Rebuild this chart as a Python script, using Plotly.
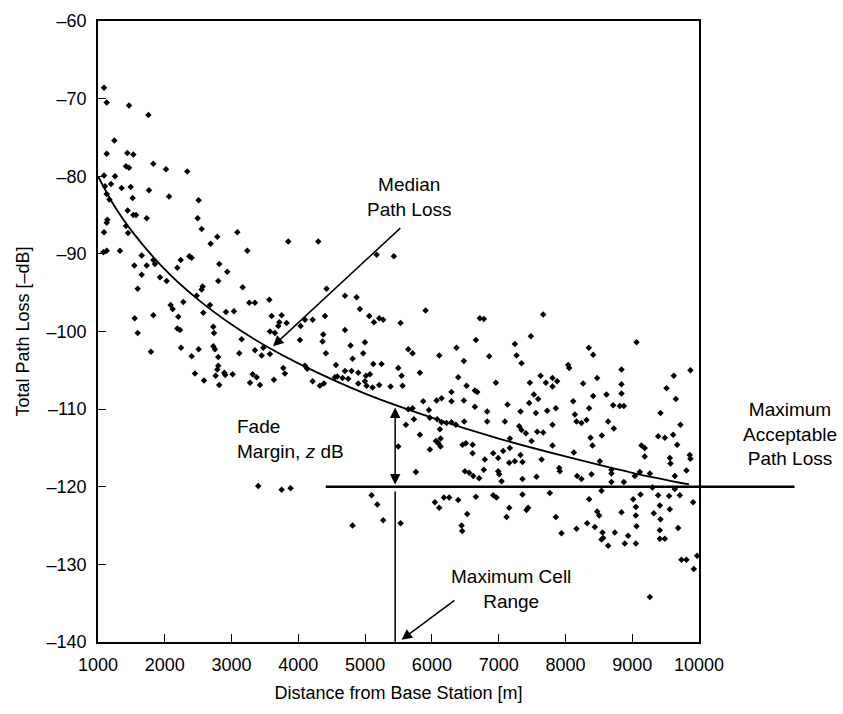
import plotly.graph_objects as go

# ---------------- data ----------------
dist_m = [
    1090, 1130, 1464, 1754, 1245, 1130, 1439, 1529, 1419, 1464, 1828, 2018, 2337, 1090, 1255, 1195,
    1105, 1354, 1489, 1764, 1130, 1519, 2063, 2507, 1170, 1444, 1529, 1569, 1729, 2492, 1140, 1130,
    1419, 2552, 1090, 1449, 3086, 2786,
    1080, 1130, 1329, 2687, 3849, 4298, 3236,
    1544, 1654, 1729, 1654, 1828, 1853, 1928, 2028, 2238, 2188, 2367, 2402, 2816, 2936, 2801, 1594,
    2567, 2552, 2477, 3166, 2088, 2118, 2278, 1828, 1549, 2203, 2577, 2677, 2916, 3036, 3266, 3350,
    3565, 2188, 2228, 2727, 2737, 1594, 3600, 3750, 3715, 3700, 3824, 3575, 3650, 3151, 1793, 2243,
    2507, 2402, 2727, 2752, 2801, 3116, 3350, 3450, 3575, 3475, 2801, 2786, 2891, 2906, 3016, 2452,
    2587, 2762, 2816, 3276, 3316, 3375, 3425, 3635, 3774, 3799, 4024, 4034, 4099, 4214, 4373, 4363,
    4398, 4413, 4563, 4423, 4134, 4099, 4214, 4323, 4383, 4548, 4583,
    5172, 5431, 4698, 4872, 4922, 5062, 5132, 5212, 5271, 5531, 5905, 6719, 6778, 7667, 4698, 4782,
    4997, 4972, 4812, 5646, 5711, 6110, 6369, 6479, 6659, 6858, 7242, 7267, 7342, 7482, 4698, 4797,
    4897, 5012, 5072, 5122, 5246, 5496, 5546, 5820, 6394, 6519, 6644, 6679, 6958, 7467, 7627, 7707,
    7806, 7876, 8041, 8056, 4663, 4747, 4897, 4997, 5022, 5112, 5212, 5381, 5561, 5646, 5711, 5870,
    5955, 6070, 6145, 6294, 6294, 6479, 6644, 6828, 7133, 7327, 7457, 7527, 7592, 7557, 7727, 7806,
    7856, 5611, 5731, 5970, 6080, 6145, 6219, 6294, 6359, 6484, 6828, 7093, 7307, 7342, 7407, 7577,
    7667, 7806, 5820, 6120, 6130, 7168,
    8350, 8415, 9064, 8475, 8265, 8839, 8839, 8839, 8415, 8615, 8116, 8355, 8714, 8814, 8874, 9623,
    9872, 9513, 9653, 9423, 8141, 8166, 8240, 8315, 8639, 8724, 8545, 8375, 9722, 9388, 9488, 9613,
    9673, 9139, 9188, 8405,
    5496, 5970, 6060, 6095, 6130, 6459, 6509, 6609, 6609, 5760, 6494, 6559, 6619, 6708, 6778, 6793,
    6918, 6993, 7068, 7168, 7158, 7242, 7327, 7357, 6993, 7008, 7043, 7357, 7567, 7642, 7492, 7806,
    7906, 7916,
    5097, 5182, 5271, 4812, 5531, 6045, 6110, 6180, 6259, 6394, 6529, 6444, 6454, 6659, 6918, 6968,
    7158, 7118, 7357, 7417, 7442, 7767, 7856, 7941,
    8126, 8515, 9188, 9563, 9573, 9862, 9872, 8175, 8240, 8390, 8689, 8689, 9114, 9264, 9039, 9638,
    9812, 8689, 8874, 9303, 9638, 8540, 8355, 9014, 9124, 9388, 9553, 9713, 9912, 8475, 8505, 8839,
    9054, 9054, 9323, 9413, 9563, 9423, 8325, 8440, 8166, 8555, 8565, 8540, 8639, 8739, 8939, 8889,
    9054, 9064, 9413, 9413, 9488, 9688, 9737, 9812, 9972, 9922, 9264,
    3400, 3750, 3884,
]

loss_db = [
    -68.6, -70.5, -70.9, -72.1, -75.4, -77.1, -77.0, -77.2, -78.7, -78.9, -78.4, -79.1, -79.4, -79.9, -80.0, -81.0,
    -81.3, -81.5, -81.4, -81.8, -82.3, -82.8, -82.6, -83.1, -83.0, -84.4, -85.0, -85.0, -85.4, -85.4, -85.6, -86.0,
    -86.4, -86.8, -87.2, -87.3, -87.2, -87.8,
    -89.8, -89.6, -89.6, -88.7, -88.4, -88.4, -89.6,
    -91.5, -90.2, -91.5, -92.7, -90.8, -91.3, -93.0, -93.5, -90.8, -91.8, -90.3, -90.5, -91.3, -92.3, -93.5, -94.5,
    -94.2, -94.6, -95.4, -94.3, -96.6, -97.1, -96.2, -97.9, -98.3, -98.1, -97.6, -96.6, -97.5, -97.4, -96.3, -96.3,
    -95.9, -99.6, -99.8, -99.4, -100.2, -100.2, -98.0, -97.9, -98.8, -99.3, -98.9, -100.0, -100.2, -101.0, -102.6, -102.1,
    -102.3, -103.2, -101.9, -102.3, -103.3, -102.8, -102.4, -103.1, -102.9, -102.1, -104.4, -104.9, -105.3, -105.6, -105.5, -105.4,
    -106.3, -105.7, -106.9, -106.6, -105.5, -105.9, -106.9, -106.2, -104.7, -105.4, -101.1, -99.3, -98.5, -98.5, -100.4, -101.3,
    -98.0, -102.8, -104.3, -94.5, -104.8, -104.4, -106.4, -107.0, -106.7, -105.9, -105.8,
    -90.1, -90.3, -95.4, -95.6, -97.1, -98.0, -98.8, -98.3, -98.5, -98.9, -97.3, -98.3, -98.4, -97.8, -99.8, -101.8,
    -101.4, -102.8, -103.5, -102.3, -102.8, -103.1, -102.1, -103.8, -101.1, -103.2, -101.6, -103.1, -104.1, -100.6, -105.1, -105.1,
    -105.3, -105.7, -105.5, -104.2, -104.2, -104.7, -105.7, -105.3, -105.9, -107.0, -107.6, -107.8, -106.6, -106.6, -105.7, -106.6,
    -106.0, -106.4, -104.3, -104.7, -106.0, -106.1, -106.7, -106.4, -107.0, -107.2, -106.9, -107.1, -107.0, -110.0, -109.9, -109.0,
    -110.1, -108.9, -108.6, -107.8, -109.0, -108.9, -109.7, -110.3, -109.4, -110.3, -109.2, -108.1, -108.7, -110.5, -110.2, -107.1,
    -109.9, -112.0, -111.3, -111.1, -111.3, -111.7, -111.8, -111.7, -112.0, -111.6, -111.6, -111.6, -112.2, -112.7, -113.1, -112.9,
    -113.0, -112.0, -113.3, -112.6, -113.8, -113.8,
    -102.1, -103.0, -101.4, -106.0, -106.7, -104.9, -106.8, -108.0, -108.3, -108.1, -109.0, -109.9, -109.5, -109.6, -109.6, -105.7,
    -105.0, -107.3, -108.7, -110.5, -110.7, -111.6, -111.8, -111.4, -111.6, -112.5, -113.4, -113.7, -112.0, -113.5, -113.7, -113.3,
    -114.6, -114.7, -115.0, -114.7,
    -114.8, -115.2, -114.1, -114.4, -114.8, -114.6, -114.4, -114.6, -115.7, -118.1, -118.0, -118.2, -118.6, -118.9, -117.8, -116.5,
    -115.7, -116.3, -115.4, -115.0, -116.9, -116.7, -115.9, -116.8, -118.0, -118.4, -119.3, -119.0, -118.7, -116.5, -114.1, -114.7,
    -117.6, -118.0,
    -121.1, -122.3, -124.3, -125.0, -124.7, -122.0, -122.7, -121.4, -121.4, -121.7, -123.5, -125.0, -125.7, -121.3, -121.1, -121.4,
    -122.7, -123.9, -121.0, -123.0, -122.7, -120.8, -123.9, -126.0,
    -115.6, -116.7, -116.1, -116.3, -117.0, -115.9, -116.4, -118.6, -119.0, -118.4, -117.8, -118.3, -118.1, -118.3, -118.6, -118.6,
    -117.9, -119.4, -119.4, -120.1, -120.3, -120.5, -121.6, -121.6, -121.0, -121.1, -121.2, -121.1, -122.0, -123.2, -123.7, -123.3,
    -122.6, -123.7, -123.4, -122.4, -122.9, -124.2, -124.7, -125.2, -125.4, -125.9, -126.6, -126.8, -127.6, -125.9, -126.3, -127.3,
    -127.3, -125.1, -125.6, -126.7, -126.7, -125.3, -129.4, -129.4, -128.9, -130.6, -134.2,
    -119.9, -120.4, -120.2,
]

median_dist_m = [1000, 1250, 1500, 2000, 2500, 3000, 3500, 4000, 5000, 6000, 7000, 8000, 9000, 9850]
median_loss_db = [-80.0, -83.9, -87.0, -92.0, -95.9, -99.1, -101.8, -104.1, -108.0, -111.1, -113.8, -116.1, -118.2, -119.7]

x_ticks = [1000, 2000, 3000, 4000, 5000, 6000, 7000, 8000, 9000, 10000]
y_ticks = [-140, -130, -120, -110, -100, -90, -80, -70, -60]
y_ticktext = ["\u2013" + str(abs(v)) for v in y_ticks]

x_range = [1000, 10000]
y_range = [-140, -60]

max_acceptable_db = -120
threshold_start_m = 4410
threshold_end_m = 11430
cell_range_m = 5450
fade_top_db = -109.6

median_arrow_tip = (3620, -101.9)
median_arrow_tail = (5550, -86.5)
range_arrow_tip = (5545, -139.7)
range_arrow_tail = (6360, -134.5)

FONT = "Liberation Sans, Arial, sans-serif"


def to_paper_x(d):
    return (d - x_range[0]) / (x_range[1] - x_range[0])


fig = go.Figure()

fig.add_trace(go.Scatter(
    x=dist_m, y=loss_db, mode="markers",
    marker=dict(symbol="diamond", size=5, color="black"),
    showlegend=False, hoverinfo="skip",
))

fig.add_trace(go.Scatter(
    x=median_dist_m, y=median_loss_db, mode="lines",
    line=dict(color="black", width=1.8, shape="spline", smoothing=1.0),
    showlegend=False, hoverinfo="skip",
))

# maximum acceptable path loss line (extends past the plot box)
fig.add_shape(type="line", xref="paper", yref="y",
              x0=to_paper_x(threshold_start_m), x1=to_paper_x(threshold_end_m),
              y0=max_acceptable_db, y1=max_acceptable_db,
              line=dict(color="black", width=2.6))

# maximum cell range vertical line
fig.add_shape(type="line", xref="x", yref="y",
              x0=cell_range_m, x1=cell_range_m, y0=max_acceptable_db - 0.6, y1=y_range[0],
              line=dict(color="black", width=1.5))

ann_font = dict(family=FONT, size=19, color="black")

# arrows
fig.add_annotation(x=median_arrow_tip[0], y=median_arrow_tip[1],
                   ax=median_arrow_tail[0], ay=median_arrow_tail[1],
                   axref="x", ayref="y", xref="x", yref="y", text="",
                   showarrow=True, arrowhead=2, arrowsize=1.4, arrowwidth=1.5, arrowcolor="black")
fig.add_annotation(x=cell_range_m, y=max_acceptable_db + 0.3,
                   ax=cell_range_m, ay=fade_top_db,
                   axref="x", ayref="y", xref="x", yref="y", text="",
                   showarrow=True, arrowhead=2, arrowsize=1.4, arrowwidth=1.5, arrowcolor="black",
                   arrowside="end+start", startarrowhead=2, startarrowsize=1.4)
fig.add_annotation(x=range_arrow_tip[0], y=range_arrow_tip[1],
                   ax=range_arrow_tail[0], ay=range_arrow_tail[1],
                   axref="x", ayref="y", xref="x", yref="y", text="",
                   showarrow=True, arrowhead=2, arrowsize=1.4, arrowwidth=1.5, arrowcolor="black")

# text labels
fig.add_annotation(x=5670, y=-82.7, xref="x", yref="y", text="Median<br>Path Loss",
                   showarrow=False, font=ann_font, align="center", xanchor="center")
fig.add_annotation(x=3050, y=-113.9, xref="x", yref="y", text="Fade<br>Margin, <i>z</i> dB",
                   showarrow=False, font=ann_font, align="left", xanchor="left")
fig.add_annotation(x=7180, y=-133.2, xref="x", yref="y", text="Maximum Cell<br>Range",
                   showarrow=False, font=ann_font, align="center", xanchor="center")
fig.add_annotation(x=to_paper_x(11360), y=-113.2, xref="paper", yref="y",
                   text="Maximum<br>Acceptable<br>Path Loss",
                   showarrow=False, font=ann_font, align="center", xanchor="center")

axis_common = dict(
    showline=True, linecolor="black", linewidth=1.6, mirror=True,
    ticks="inside", ticklen=8, tickwidth=1.3, tickcolor="black",
    showgrid=False, zeroline=False,
    tickfont=dict(family=FONT, size=18, color="black"),
)

fig.update_xaxes(range=x_range, tickvals=x_ticks, ticktext=[str(v) for v in x_ticks],
                 title=dict(text="Distance from Base Station [m]", standoff=12,
                            font=dict(family=FONT, size=18, color="black")),
                 ticklabelstandoff=6, **axis_common)
fig.update_yaxes(range=y_range, tickvals=y_ticks, ticktext=y_ticktext,
                 title=dict(text="Total Path Loss [\u2013dB]", standoff=12,
                            font=dict(family=FONT, size=18, color="black")),
                 ticklabelstandoff=6, **axis_common)

fig.update_layout(
    width=843, height=714,
    margin=dict(l=98, r=144, t=21, b=72, autoexpand=False),
    plot_bgcolor="white", paper_bgcolor="white",
    font=dict(family=FONT, color="black"),
)

fig.write_html("out.html")
